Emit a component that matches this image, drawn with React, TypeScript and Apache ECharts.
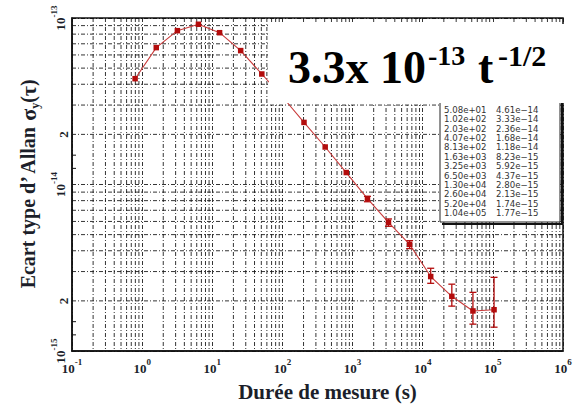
import React, { useEffect, useRef } from "react";
import * as echarts from "echarts";

const tau = [0.794, 1.59, 3.18, 6.35, 12.7, 25.4, 50.8, 102, 203, 407, 813, 1630, 3250, 6500, 13000, 26000, 52000, 104000];
const sigma = [4.32e-14, 6.64e-14, 8.39e-14, 9.17e-14, 8.16e-14, 6.37e-14, 4.61e-14, 3.33e-14, 2.36e-14, 1.68e-14, 1.18e-14, 8.23e-15, 5.92e-15, 4.37e-15, 2.8e-15, 2.13e-15, 1.74e-15, 1.77e-15];
// Error bars
const errTau = [1630, 3250, 6500, 13000, 26000, 52000, 104000];
const errLow = [7.88e-15, 5.61e-15, 4.12e-15, 2.55e-15, 1.86e-15, 1.45e-15, 1.39e-15];
const errHigh = [8.49e-15, 6.21e-15, 4.6e-15, 3.14e-15, 2.52e-15, 2.25e-15, 2.77e-15];
// Table shows the points from this index on
const tableStart = 6;
// Axis ranges and tick helpers
const xMin = 0.1;
const xMax = 1e6;
const yMin = 1e-15;
const yMax = 1e-13;
const xMinorDecades = [-1, 0, 1, 2, 3, 4, 5];
const yMinorDecades = [-15, -14];
const minorMultipliers = [2, 3, 4, 5, 6, 7, 8, 9];
const yExtraLabels = [2e-15, 2e-14];
const ySmallTicks = [1.25e-15, 1.5e-15, 1.25e-14, 1.5e-14];

const SERIF = "'Liberation Serif', 'Times New Roman', serif";
const TABLE_FONT = "'DejaVu Sans', 'Liberation Sans', sans-serif";
const INK = "#1c1f2a";
const RED = "#b30c0c";

function sci(v: number): string {
  const [m, e] = v.toExponential(2).split("e");
  const n = parseInt(e, 10);
  const sign = n < 0 ? "\u2212" : "+";
  return `${m}e${sign}${String(Math.abs(n)).padStart(2, "0")}`;
}

function expLabel(v: number): string {
  const e = Math.round(Math.log10(v));
  return `{b|10}{s|${e}}`;
}

const labelRich = {
  b: { fontFamily: SERIF, fontWeight: "bold", fontSize: 13, color: INK, lineHeight: 18, verticalAlign: "bottom" },
  s: { fontFamily: SERIF, fontWeight: "bold", fontSize: 9, color: INK, lineHeight: 11, verticalAlign: "top" },
};

const DASH = [4, 2, 1, 2];
const gridLineStyle = { color: "#111", width: 0.85, type: DASH };

export default function App() {
  const ref = useRef<HTMLDivElement>(null);

  useEffect(() => {
    if (!ref.current) return;
    const chart = echarts.init(ref.current, undefined, { renderer: "svg" });

    const xMinor: number[][] = [];
    xMinorDecades.forEach((k) => minorMultipliers.forEach((m) => xMinor.push([m * Math.pow(10, k), yMin])));
    const yMinor: number[][] = [];
    yMinorDecades.forEach((k) => minorMultipliers.forEach((m) => yMinor.push([xMin, m * Math.pow(10, k)])));

    const gridStroke = { stroke: "#111", lineWidth: 0.85, lineDash: DASH };

    const option: any = {
      animation: false,
      backgroundColor: "#ffffff",
      grid: {
        left: 72,
        top: 18,
        width: 491,
        height: 333,
        show: true,
        borderColor: "#111",
        borderWidth: 1.5,
        backgroundColor: "transparent",
      },
      xAxis: {
        type: "log",
        logBase: 10,
        min: xMin,
        max: xMax,
        axisLine: { show: true, lineStyle: { color: "#111", width: 1.5 } },
        axisTick: { show: false },
        splitLine: { show: true, lineStyle: gridLineStyle },
        axisLabel: { formatter: expLabel, margin: 6, rich: labelRich, showMinLabel: true, showMaxLabel: true },
        name: "Durée de mesure (s)",
        nameLocation: "middle",
        nameGap: 30,
        nameTextStyle: {
          fontFamily: SERIF,
          fontWeight: "bold",
          fontSize: 21,
          color: INK,
          padding: [0, 0, 0, 20],
        },
      },
      yAxis: {
        type: "log",
        logBase: 10,
        min: yMin,
        max: yMax,
        axisLine: { show: true, lineStyle: { color: "#111", width: 1.5 } },
        axisTick: { show: false },
        splitLine: { show: true, lineStyle: gridLineStyle },
        axisLabel: { formatter: expLabel, margin: 5, rotate: 90, rich: labelRich, showMinLabel: true, showMaxLabel: true },
        name: "{t|Ecart type d\u2019 Allan }{g|\u03c3}{sub|y}{t|(}{g|\u03c4}{t|)}",
        nameLocation: "middle",
        nameRotate: 90,
        nameGap: 27,
        nameTextStyle: {
          rich: {
            t: { fontFamily: SERIF, fontWeight: "bold", fontSize: 20, color: INK, lineHeight: 26, verticalAlign: "middle" },
            g: { fontFamily: SERIF, fontWeight: "bold", fontSize: 22, color: INK, lineHeight: 26, verticalAlign: "middle" },
            sub: { fontFamily: SERIF, fontWeight: "bold", fontSize: 12, color: INK, lineHeight: 13, verticalAlign: "bottom" },
          },
        },
      },
      series: [
        {
          type: "custom",
          z: 1,
          silent: true,
          encode: { x: 0, y: 1 },
          data: xMinor,
          renderItem: (params: any, api: any) => {
            const p = api.coord([api.value(0), yMin]);
            const cs = params.coordSys;
            return {
              type: "line",
              shape: { x1: p[0], y1: cs.y, x2: p[0], y2: cs.y + cs.height },
              style: gridStroke,
            };
          },
        },
        {
          type: "custom",
          z: 1,
          silent: true,
          encode: { x: 0, y: 1 },
          data: yMinor,
          renderItem: (params: any, api: any) => {
            const p = api.coord([xMin, api.value(1)]);
            const cs = params.coordSys;
            return {
              type: "line",
              shape: { x1: cs.x, y1: p[1], x2: cs.x + cs.width, y2: p[1] },
              style: gridStroke,
            };
          },
        },
        {
          type: "custom",
          z: 3,
          encode: { x: 0, y: [1, 2] },
          data: errTau.map((t, i) => [t, errLow[i], errHigh[i]]),
          renderItem: (_params: any, api: any) => {
            const x = api.value(0);
            const pLo = api.coord([x, api.value(1)]);
            const pHi = api.coord([x, api.value(2)]);
            const w = 3.5;
            const st = { stroke: RED, lineWidth: 1.3 };
            return {
              type: "group",
              children: [
                { type: "line", shape: { x1: pLo[0], y1: pLo[1], x2: pHi[0], y2: pHi[1] }, style: st },
                { type: "line", shape: { x1: pLo[0] - w, y1: pLo[1], x2: pLo[0] + w, y2: pLo[1] }, style: st },
                { type: "line", shape: { x1: pHi[0] - w, y1: pHi[1], x2: pHi[0] + w, y2: pHi[1] }, style: st },
              ],
            };
          },
        },
        {
          type: "line",
          z: 4,
          data: tau.map((t, i) => [t, sigma[i]]),
          symbol: "rect",
          symbolSize: 5.5,
          showSymbol: true,
          itemStyle: { color: RED },
          lineStyle: { color: "#c83a3a", width: 1.1 },
        },
      ],
    };

    chart.setOption(option);

    const graphic: any[] = [];
    // extra "2" labels on the y axis
    yExtraLabels.forEach((v) => {
      const py = chart.convertToPixel({ yAxisIndex: 0 }, v) as number;
      graphic.push({
        type: "text",
        x: 63,
        y: py,
        rotation: Math.PI / 2,
        style: { text: "2", fontFamily: SERIF, fontWeight: "bold", fontSize: 13, fill: INK, align: "center", verticalAlign: "middle" },
      });
    });
    // small ticks on the left axis
    ySmallTicks.forEach((v) => {
      const py = chart.convertToPixel({ yAxisIndex: 0 }, v) as number;
      graphic.push({
        type: "line",
        shape: { x1: 72, y1: py, x2: 76, y2: py },
        style: { stroke: "#111", lineWidth: 1 },
      });
    });

    // white annotation box with the fit formula
    graphic.push({
      type: "rect",
      z: 100,
      shape: { x: 269, y: 24, width: 310, height: 79 },
      style: { fill: "#ffffff" },
    });
    const big = { fontFamily: SERIF, fontWeight: "bold", fill: "#000" };
    graphic.push({ type: "text", z: 101, x: 288, y: 67.5, style: { ...big, text: "3.3x 10", fontSize: 46, align: "left", verticalAlign: "middle" } });
    graphic.push({ type: "text", z: 101, x: 428, y: 55, style: { ...big, text: "-13", fontSize: 28, align: "left", verticalAlign: "middle" } });
    graphic.push({ type: "text", z: 101, x: 478, y: 67.5, style: { ...big, text: "t", fontSize: 46, align: "left", verticalAlign: "middle" } });
    graphic.push({ type: "text", z: 101, x: 498, y: 55, style: { ...big, text: "-1/2", fontSize: 30, align: "left", verticalAlign: "middle" } });

    // table box (drawn behind the annotation box)
    graphic.push({
      type: "polyline",
      z: 90,
      shape: { points: [[562, 100], [562, 224], [442, 224]] },
      style: { stroke: "#111", lineWidth: 2, fill: "none" },
    });
    graphic.push({
      type: "rect",
      z: 91,
      shape: { x: 440, y: 96, width: 120, height: 126 },
      style: { fill: "#ffffff", stroke: "#222", lineWidth: 1 },
    });
    tau.slice(tableStart).forEach((t, i) => {
      const s = sigma[tableStart + i];
      const y = 110 + i * 9.36;
      const ts = { fontFamily: TABLE_FONT, fontSize: 8.6, lineHeight: 9, fill: "#333", align: "left", verticalAlign: "middle" };
      graphic.push({ type: "text", z: 92, x: 444, y, style: { ...ts, text: sci(t) } });
      graphic.push({ type: "text", z: 92, x: 496, y, style: { ...ts, text: sci(s) } });
    });

    chart.setOption({ graphic });

    return () => chart.dispose();
  }, []);

  return (
    <div
      ref={ref}
      style={{ position: "absolute", left: 0, top: 0, width: 583, height: 409, background: "#fff" }}
    />
  );
}
